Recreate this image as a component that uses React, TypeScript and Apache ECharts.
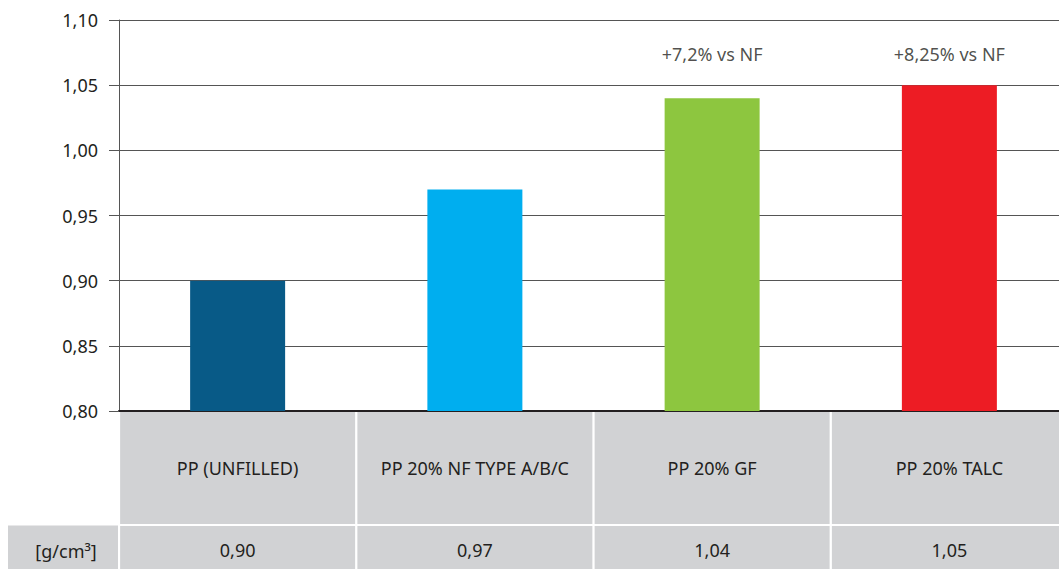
import React, { useEffect, useRef } from "react";
import * as echarts from "echarts";

// Density of polypropylene compounds
const CATEGORIES = ["PP (UNFILLED)", "PP 20% NF TYPE A/B/C", "PP 20% GF", "PP 20% TALC"];
const DENSITY = [0.9, 0.97, 1.04, 1.05];
const BAR_COLORS = ["#085a87", "#00aeef", "#8dc63f", "#ed1c24"];
const ANNOTATIONS = ["", "", "+7,2% vs NF", "+8,25% vs NF"];
const UNIT_LABEL = "[g/cm³]";
const Y_MIN = 0.8;
const Y_MAX = 1.1;
const Y_STEP = 0.05;
const ANNOTATION_LEVEL = 1.074;

const FONT = "'Noto Sans', 'Open Sans', sans-serif";
const TEXT = "#231f20";
const CELL = "#d1d2d4";

const fmt = (v: number) => v.toFixed(2).replace(".", ",");

export default function App() {
  const ref = useRef<HTMLDivElement>(null);

  useEffect(() => {
    if (!ref.current) return;
    const chart = echarts.init(ref.current, undefined, { renderer: "svg" });

    chart.setOption({
      animation: false,
      backgroundColor: "#ffffff",
      textStyle: { fontFamily: FONT, color: TEXT },
      grid: {
        left: 119,
        top: 20,
        width: 949,
        height: 391,
        containLabel: false,
        outerBoundsMode: "none",
      },
      xAxis: {
        type: "category",
        data: CATEGORIES,
        axisLine: { show: true, lineStyle: { color: TEXT, width: 2 } },
        axisTick: { show: false },
        axisLabel: {
          interval: 0,
          margin: 1,
          hideOverlap: false,
          formatter: (name: string, idx: number) =>
            `{cat|${name}}\n{gap| }\n{val|${fmt(DENSITY[idx])}}`,
          rich: {
            cat: {
              width: 235,
              height: 112,
              lineHeight: 112,
              backgroundColor: CELL,
              align: "center",
              fontSize: 18,
              fontFamily: FONT,
              color: TEXT,
            },
            gap: { width: 235, height: 2, lineHeight: 2, fontSize: 1 },
            val: {
              width: 235,
              height: 48,
              lineHeight: 48,
              backgroundColor: CELL,
              align: "center",
              fontSize: 18,
              fontFamily: FONT,
              color: TEXT,
            },
          },
        },
      },
      yAxis: {
        type: "value",
        min: Y_MIN,
        max: Y_MAX,
        interval: Y_STEP,
        axisLine: { show: true, lineStyle: { color: "#555555", width: 1 } },
        axisTick: { show: true, length: 10, lineStyle: { color: "#555555", width: 1 } },
        splitLine: { show: true, lineStyle: { color: "#555555", width: 1 } },
        axisLabel: {
          margin: 21,
          fontSize: 18,
          fontFamily: FONT,
          color: TEXT,
          formatter: (v: number) => fmt(v),
        },
      },
      graphic: [
        {
          type: "rect",
          shape: { x: 8, y: 525.5, width: 110, height: 50 },
          style: { fill: CELL },
          z: 10,
        },
        {
          type: "text",
          x: 66,
          y: 551,
          style: {
            text: UNIT_LABEL,
            fontSize: 18,
            fontFamily: FONT,
            fill: TEXT,
            align: "center",
            verticalAlign: "middle",
          },
          z: 11,
        },
      ],
      series: [
        {
          type: "bar",
          barWidth: 95,
          data: DENSITY.map((v, i) => ({ value: v, itemStyle: { color: BAR_COLORS[i] } })),
        },
        {
          type: "scatter",
          symbolSize: 0,
          silent: true,
          data: ANNOTATIONS.map((t) => (t ? ANNOTATION_LEVEL : null)),
          label: {
            show: true,
            position: "inside",
            fontSize: 18,
            fontFamily: FONT,
            color: TEXT,
            formatter: (p: any) => ANNOTATIONS[p.dataIndex],
          },
        },
      ],
    });

    return () => chart.dispose();
  }, []);

  return (
    <div
      ref={ref}
      style={{ position: "fixed", left: 0, top: 0, width: 1059, height: 569 }}
    />
  );
}
